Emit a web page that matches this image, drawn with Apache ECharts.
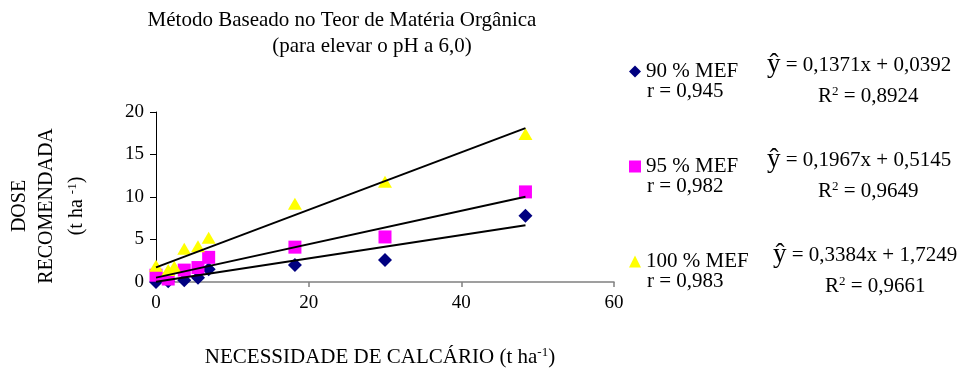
<!DOCTYPE html>
<html>
<head>
<meta charset="utf-8">
<script src="https://cdn.jsdelivr.net/npm/echarts@6/dist/echarts.min.js"></script>
<style>
  html, body { margin: 0; padding: 0; background: #fff; }
  #chart { width: 967px; height: 368px; }
</style>
</head>
<body>
<div id="chart"></div>
<script>
// Necessidade de calcário (t/ha) vs dose recomendada (t/ha), three MEF levels
const seriesNames = ['90 % MEF', '95 % MEF', '100 % MEF'];

const x90  = [0, 1.6, 3.7, 5.5, 6.9, 18.2, 30.0, 48.4];
const y90  = [0.0, 0.1, 0.2, 0.5, 1.5, 2.0, 2.6, 7.8];

const x95  = [0, 1.6, 3.7, 5.5, 6.9, 18.2, 30.0, 48.4];
const y95  = [0.8, 0.35, 1.4, 1.7, 2.9, 4.1, 5.3, 10.6];

const x100 = [0, 1.6, 2.4, 3.7, 5.5, 6.9, 18.2, 30.0, 48.4];
const y100 = [1.9, 1.4, 1.8, 3.9, 4.2, 5.2, 9.2, 11.8, 17.4];

// Linear fit coefficients (slope, intercept), r and R²
const slopes     = [0.1371, 0.1967, 0.3384];
const intercepts = [0.0392, 0.5145, 1.7249];
const rValues    = ['0,945', '0,982', '0,983'];
const r2Values   = ['0,8924', '0,9649', '0,9661'];
const trendRange = [0, 48.4];

const xTicks = [0, 20, 40, 60];
const yTicks = [0, 5, 10, 15, 20];

const colors  = ['#000080', '#FF00FF', '#FFFF00'];
const symbols = ['diamond', 'rect', 'triangle'];
const symbolSizes = [[14, 14], [13, 13], [14, 12]];

const serif = '"Liberation Serif", "Times New Roman", serif';
const fmt = v => v.toFixed(4).replace('.', ',');

const xs = [x90, x95, x100];
const ys = [y90, y95, y100];

const scatterSeries = seriesNames.map((name, i) => ({
  name,
  type: 'scatter',
  data: xs[i].map((x, k) => [x, ys[i][k]]),
  symbol: symbols[i],
  symbolSize: symbolSizes[i],
  itemStyle: { color: colors[i], opacity: 1 },
  z: 2 + i
}));

const trendSeries = seriesNames.map((name, i) => ({
  name: name + ' ajuste',
  type: 'line',
  data: trendRange.map(x => [x, slopes[i] * x + intercepts[i]]),
  showSymbol: false,
  symbol: 'none',
  lineStyle: { color: '#000', width: 2 },
  z: 10
}));

// Right-hand annotation blocks: legend marker, r value and fitted equation
const blockY = [67, 162, 257];
const eqX = [767, 767, 773];
const r2X = [818, 818, 825];

const legends = seriesNames.map((name, i) => ({
  data: [name],
  left: 624,
  top: blockY[i] - 11,
  itemWidth: 12,
  itemHeight: 12,
  itemGap: 0,
  selectedMode: false,
  textStyle: { fontFamily: serif, fontSize: 21, color: '#000' }
}));

const textStyleBase = { fontFamily: serif, fontSize: 21, fill: '#000' };
const supRich = {
  s: { fontFamily: serif, fontSize: 13, verticalAlign: 'top', padding: [0, 0, 9, 0] },
  h: { fontFamily: serif, fontSize: 27 }
};

const graphics = [];
seriesNames.forEach((name, i) => {
  graphics.push({
    type: 'text', x: 647, y: blockY[i] + 24,
    style: Object.assign({}, textStyleBase, { text: 'r = ' + rValues[i], align: 'left', verticalAlign: 'middle' })
  });
  graphics.push({
    type: 'text', x: eqX[i], y: blockY[i] - 2,
    style: Object.assign({}, textStyleBase, {
      text: '{h|ŷ} = ' + fmt(slopes[i]) + 'x + ' + fmt(intercepts[i]),
      align: 'left', verticalAlign: 'middle', rich: supRich
    })
  });
  graphics.push({
    type: 'text', x: r2X[i], y: blockY[i] + 29,
    style: Object.assign({}, textStyleBase, {
      text: 'R{s|2} = ' + r2Values[i],
      align: 'left', verticalAlign: 'middle', rich: supRich
    })
  });
});

// Titles
graphics.push({
  type: 'text', x: 342, y: 20,
  style: Object.assign({}, textStyleBase, { text: 'Método Baseado no Teor de Matéria Orgânica', align: 'center', verticalAlign: 'middle' })
});
graphics.push({
  type: 'text', x: 372, y: 46,
  style: Object.assign({}, textStyleBase, { text: '(para elevar o pH a 6,0)', align: 'center', verticalAlign: 'middle' })
});

// Y axis title in three rotated columns
const yTitleLines = ['DOSE', 'RECOMENDADA', '(t ha {s|-1})'];
const yTitleX = [20, 47, 77];
yTitleLines.forEach((t, i) => {
  graphics.push({
    type: 'text', x: yTitleX[i], y: 206, rotation: Math.PI / 2,
    style: Object.assign({}, textStyleBase, { fontSize: 20, text: t, align: 'center', verticalAlign: 'middle', rich: supRich })
  });
});

// X axis title
graphics.push({
  type: 'text', x: 380, y: 357,
  style: Object.assign({}, textStyleBase, { text: 'NECESSIDADE DE CALCÁRIO (t ha{s|-1})', align: 'center', verticalAlign: 'middle', rich: supRich })
});

const chart = echarts.init(document.getElementById('chart'), null, { renderer: 'canvas' });
chart.setOption({
  animation: false,
  backgroundColor: '#fff',
  grid: { left: 156, right: 353, top: 112, bottom: 86, containLabel: false },
  legend: legends,
  xAxis: {
    type: 'value',
    min: xTicks[0],
    max: xTicks[xTicks.length - 1],
    interval: 20,
    axisLine: { show: true, onZero: false, lineStyle: { color: '#808080', width: 1.5 } },
    axisTick: { show: true, inside: false, length: 5, lineStyle: { color: '#808080', width: 1.5 } },
    axisLabel: { fontFamily: serif, fontSize: 19, color: '#000', margin: 12 },
    splitLine: { show: false }
  },
  yAxis: {
    type: 'value',
    min: yTicks[0],
    max: yTicks[yTicks.length - 1],
    interval: 5,
    axisLine: { show: true, lineStyle: { color: '#000', width: 1 } },
    axisTick: { show: true, inside: false, length: 6, lineStyle: { color: '#000', width: 1 } },
    axisLabel: { fontFamily: serif, fontSize: 19, color: '#000', margin: 12 },
    splitLine: { show: false }
  },
  series: scatterSeries.concat(trendSeries),
  graphic: graphics
});
</script>
</body>
</html>
